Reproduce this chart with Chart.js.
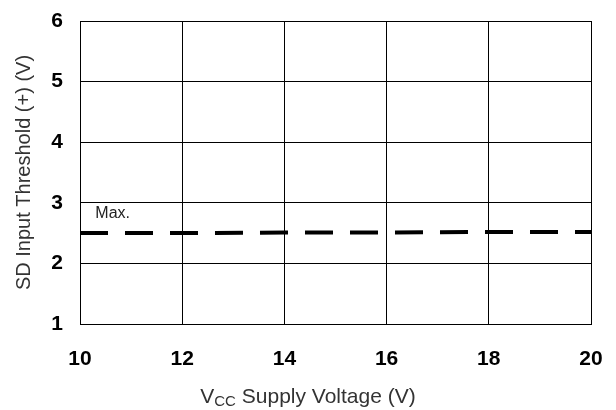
<!DOCTYPE html>
<html lang="en">
<head>
    <meta charset="UTF-8">
    <title>SD Input Threshold</title>
    <style>
        body { margin: 0; background: #fff; }
        #wrap { width: 616px; height: 410px; }
    </style>
</head>
<body>
    <div id="wrap">
        <canvas id="myChart"></canvas>
    </div>

    <script src="https://cdn.jsdelivr.net/npm/chart.js"></script>

    <script>
        const supplyVoltage = [10, 12, 14, 16, 18, 20];            // Vcc (V)
        const thresholdMax = [2.50, 2.50, 2.51, 2.51, 2.52, 2.52]; // SD threshold (+) max (V)
        const seriesLabel = 'Max.';
        const labelAt = { x: 10.3, y: 2.82 };                      // where "Max." sits, in data units
        const yTitle = 'SD Input Threshold (+) (V)';

        const FONT = "Arial, 'Liberation Sans', sans-serif";

        // x axis title with a subscript CC, drawn by hand (centred on the page like the original)
        const xTitlePlugin = {
            id: 'xTitle',
            afterDraw(chart) {
                const { ctx } = chart;
                const cx = chart.width / 2;
                const y = 397;
                ctx.save();
                ctx.fillStyle = '#333';
                ctx.textBaseline = 'middle';
                const big = '21px ' + FONT, small = '15px ' + FONT;
                ctx.font = big;
                const wV = ctx.measureText('V').width;
                const rest = ' Supply Voltage (V)';
                const wRest = ctx.measureText(rest).width;
                ctx.font = small;
                const wCC = ctx.measureText('CC').width;
                let x = cx - (wV + wCC + wRest) / 2;
                ctx.font = big;
                ctx.fillText('V', x, y);
                x += wV;
                ctx.font = small;
                ctx.fillText('CC', x, y + 5);
                x += wCC;
                ctx.font = big;
                ctx.fillText(rest, x, y);
                ctx.restore();
            }
        };

        // series label placed through the scales
        const seriesLabelPlugin = {
            id: 'seriesLabel',
            afterDatasetsDraw(chart) {
                const { ctx, scales } = chart;
                ctx.save();
                ctx.font = '16px ' + FONT;
                ctx.fillStyle = '#222';
                ctx.textBaseline = 'middle';
                ctx.fillText(seriesLabel, scales.x.getPixelForValue(labelAt.x), scales.y.getPixelForValue(labelAt.y));
                ctx.restore();
            }
        };

        new Chart(document.getElementById('myChart'), {
            type: 'line',
            data: {
                datasets: [{
                    label: seriesLabel,
                    data: supplyVoltage.map((v, i) => ({ x: v, y: thresholdMax[i] })),
                    borderColor: '#000',
                    borderWidth: 4,
                    borderDash: [28, 17],
                    pointRadius: 0,
                    tension: 0,
                    fill: false
                }]
            },
            options: {
                responsive: true,
                maintainAspectRatio: false,
                animation: false,
                layout: { padding: { top: 21, right: 25, left: 0, bottom: 0 } },
                plugins: {
                    legend: { display: false },
                    tooltip: { enabled: false }
                },
                scales: {
                    x: {
                        type: 'linear',
                        min: 10,
                        max: 20,
                        ticks: {
                            stepSize: 2,
                            padding: 23,
                            color: '#000',
                            font: { family: FONT, size: 21, weight: 'bold' }
                        },
                        grid: { color: '#000', lineWidth: 1, drawTicks: false },
                        border: { color: '#000', width: 1 },
                        afterFit(scale) {
                            scale.height = 86;
                            scale.paddingLeft = 0;
                            scale.paddingRight = 0;
                        }
                    },
                    y: {
                        min: 1,
                        max: 6,
                        ticks: {
                            stepSize: 1,
                            padding: 17,
                            color: '#000',
                            font: { family: FONT, size: 21, weight: 'bold' }
                        },
                        grid: { color: '#000', lineWidth: 1, drawTicks: false },
                        border: { color: '#000', width: 1 },
                        title: {
                            display: true,
                            text: yTitle,
                            color: '#333',
                            font: { family: FONT, size: 20 },
                            padding: { top: 12, bottom: 0 }
                        },
                        afterFit(scale) {
                            scale.width = 80;
                            scale.paddingTop = 0;
                            scale.paddingBottom = 0;
                        }
                    }
                }
            },
            plugins: [xTitlePlugin, seriesLabelPlugin]
        });
    </script>
</body>
</html>
